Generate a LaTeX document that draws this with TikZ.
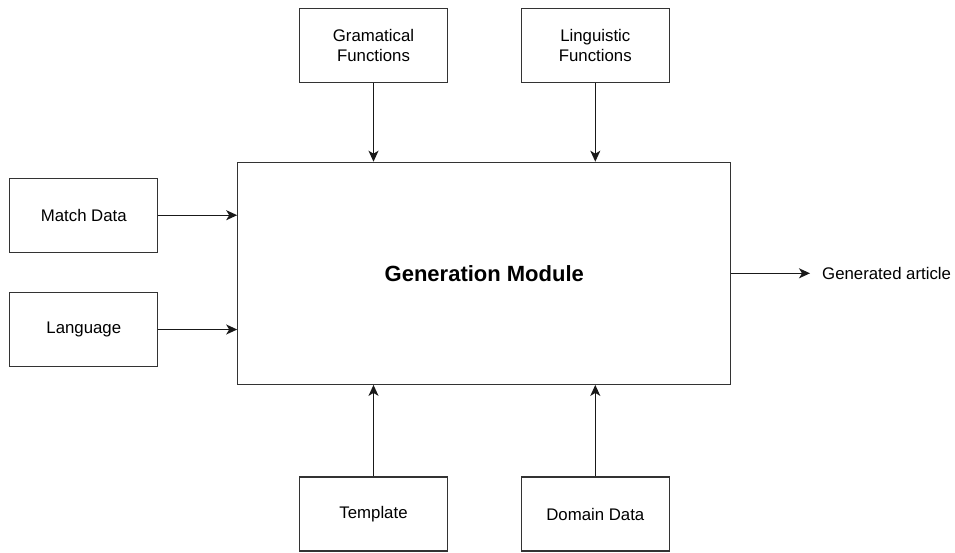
\documentclass[tikz,border=0pt]{standalone}
\usepackage{fontspec}
\setmainfont{Liberation Sans}
\usetikzlibrary{arrows.meta}
\begin{document}
\begin{tikzpicture}[x=1pt,y=-1pt,
  box/.style={draw=black!80, line width=1.2pt, minimum width=148pt, minimum height=74pt,
    inner sep=0pt, align=center, font=\fontsize{16.8}{19.5}\selectfont},
  flow/.style={draw=black!90, line width=1.3pt, -{Stealth[length=11pt,width=10pt,inset=3pt]}}]
  \useasboundingbox (0,0) rectangle (955,552);
  % central module
  \node[draw=black!80, line width=1.2pt, minimum width=493pt, minimum height=222pt, inner sep=0pt,
        font=\fontsize{22}{26}\selectfont\bfseries] (gen) at (484.3,273.3) {Generation Module};
  % inputs
  \node[box] (gram) at (373.5,45.7) {Gramatical\\Functions};
  \node[box] (ling) at (595.3,45.7) {Linguistic\\Functions};
  \node[box] (match) at (83.8,215.2) {Match Data};
  \node[box] (lang) at (83.8,329.5) {Language};
  \node[box] (tmpl) at (373.5,514) {Template};
  \node[box] (dom) at (595.3,514) {Domain Data};
  % output
  \node[anchor=west, inner sep=0pt, font=\fontsize{16.8}{19.5}\selectfont] (out) at (822,273.3) {Generated article};
  % connectors
  \draw[flow] (gram.south) -- (gram.south |- gen.north);
  \draw[flow] (ling.south) -- (ling.south |- gen.north);
  \draw[flow] (match.east) -- (match.east -| gen.west);
  \draw[flow] (lang.east) -- (lang.east -| gen.west);
  \draw[flow] (tmpl.north) -- (tmpl.north |- gen.south);
  \draw[flow] (dom.north) -- (dom.north |- gen.south);
  \draw[flow] (gen.east) -- ([xshift=-12pt]out.west);
\end{tikzpicture}
\end{document}
